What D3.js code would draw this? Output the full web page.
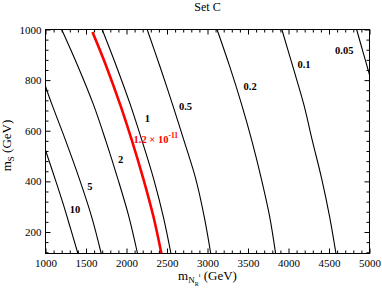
<!DOCTYPE html>
<html>
<head>
<meta charset="utf-8">
<script src="https://cdn.jsdelivr.net/npm/d3@7"></script>
<style>
  body { margin: 0; background: #fff; }
  svg { display: block; }
  text { font-family: "Liberation Serif", "Times New Roman", serif; }
</style>
</head>
<body>
<div id="chart"></div>
<script>
// m_S levels where the curves were read (GeV)
const mS_levels = [1000, 855, 705, 560, 410, 260, 115];

// contour curves, m_NR values (GeV) at the levels above
const curve_2 = [1200, 1400, 1590, 1745, 1893, 2030, 2136];
const curve_1 = [1700, 1875, 2045, 2192, 2335, 2455, 2549];
const curve_05 = [2255, 2412, 2567, 2711, 2855, 2960, 3040];
const curve_02 = [3118, 3273, 3420, 3548, 3665, 3768, 3841];
const curve_01 = [3918, 4052, 4188, 4295, 4410, 4508, 4586];

// red curve starts slightly below the top
const red_mS = [990, 855, 705, 560, 410, 260, 115];
const red_mN = [1580, 1750, 1920, 2068, 2208, 2333, 2431];

// curves entering from the side
const curve_5_mS = [775, 705, 560, 410, 260, 115];
const curve_5_mN = [1000, 1078, 1250, 1418, 1570, 1688];
const curve_10_mS = [523, 405, 307, 215, 115];
const curve_10_mN = [1000, 1123, 1222, 1308, 1400];
const curve_005_mS = [1000, 910, 821];
const curve_005_mN = [4841, 4921, 5000];

// labels
const labelText = ['10', '5', '2', '1', '0.5', '0.2', '0.1', '0.05'];
const labelMN = [1363, 1548, 1927, 2259, 2729, 3527, 4191, 4689];
const labelMS = [276, 365, 474, 634, 681, 761, 849, 902];
const redLabelMN = 2087, redLabelMS = 553;

const xTicks = [1000, 1500, 2000, 2500, 3000, 3500, 4000, 4500, 5000];
const yTicks = [200, 400, 600, 800, 1000];

const width = 382, height = 291;

const x_scale = d3.scaleLinear().domain([1000, 5000]).range([45.5, 369.5]);
const y_scale = d3.scaleLinear().domain([115, 1000]).range([253.5, 29.5]);

const xMinor = d3.range(1000, 5001, 100).filter(v => v % 500 !== 0);
const yMinor = d3.range(120, 1001, 40).filter(v => v % 200 !== 0);

const svg = d3.select('#chart').append('svg')
    .attr('width', width)
    .attr('height', height);

svg.append('defs').append('clipPath').attr('id', 'plot')
    .append('rect')
    .attr('x', x_scale(1000)).attr('y', y_scale(1000))
    .attr('width', x_scale(5000) - x_scale(1000))
    .attr('height', y_scale(115) - y_scale(1000));

// axes, ticks pointing inward
function drawAxis(axis, tx, ty, labels) {
    const g = svg.append('g').attr('transform', `translate(${tx},${ty})`).call(axis);
    g.select('.domain').remove();
    g.selectAll('line').attr('stroke', '#000');
    g.selectAll('text').attr('fill', '#000').style('font-size', '11px');
    if (!labels) g.selectAll('text').remove();
    return g;
}
const B = y_scale(115), T = y_scale(1000), L = x_scale(1000), R = x_scale(5000);

drawAxis(d3.axisBottom(x_scale).tickValues(xTicks).tickSize(-5).tickPadding(6).tickFormat(d3.format('d')), 0, B, true);
drawAxis(d3.axisBottom(x_scale).tickValues(xMinor).tickSize(-3).tickFormat(''), 0, B, false);
drawAxis(d3.axisTop(x_scale).tickValues(xTicks).tickSize(-5).tickFormat(''), 0, T, false);
drawAxis(d3.axisTop(x_scale).tickValues(xMinor).tickSize(-3).tickFormat(''), 0, T, false);
drawAxis(d3.axisLeft(y_scale).tickValues(yTicks).tickSize(-5).tickPadding(4).tickFormat(d3.format('d')), L, 0, true);
drawAxis(d3.axisLeft(y_scale).tickValues(yMinor).tickSize(-3).tickFormat(''), L, 0, false);
drawAxis(d3.axisRight(y_scale).tickValues(yTicks).tickSize(-5).tickFormat(''), R, 0, false);
drawAxis(d3.axisRight(y_scale).tickValues(yMinor).tickSize(-3).tickFormat(''), R, 0, false);

svg.append('rect')
    .attr('x', L).attr('y', T)
    .attr('width', R - L).attr('height', B - T)
    .attr('fill', 'none').attr('stroke', '#000').attr('stroke-width', 1);

// curves
const line = d3.line()
    .x(d => x_scale(d[0]))
    .y(d => y_scale(d[1]))
    .curve(d3.curveCatmullRom);

const plot = svg.append('g').attr('clip-path', 'url(#plot)');
const blackCurves = [
    d3.zip(curve_10_mN, curve_10_mS),
    d3.zip(curve_5_mN, curve_5_mS),
    d3.zip(curve_2, mS_levels),
    d3.zip(curve_1, mS_levels),
    d3.zip(curve_05, mS_levels),
    d3.zip(curve_02, mS_levels),
    d3.zip(curve_01, mS_levels),
    d3.zip(curve_005_mN, curve_005_mS)
];
plot.selectAll('path.black').data(blackCurves).enter()
    .append('path')
    .attr('class', 'black')
    .attr('fill', 'none')
    .attr('stroke', '#000')
    .attr('stroke-width', 1.1)
    .attr('d', line);

plot.append('path')
    .datum(d3.zip(red_mN, red_mS))
    .attr('fill', 'none')
    .attr('stroke', '#ff0000')
    .attr('stroke-width', 2.6)
    .attr('d', line);

// contour labels
svg.selectAll('text.lab').data(labelText).enter()
    .append('text')
    .attr('class', 'lab')
    .attr('x', (d, i) => x_scale(labelMN[i]))
    .attr('y', (d, i) => y_scale(labelMS[i]))
    .attr('text-anchor', 'middle')
    .style('font-size', '10.5px')
    .style('font-weight', 'bold')
    .text(d => d);

const redLab = svg.append('text')
    .attr('x', x_scale(redLabelMN))
    .attr('y', y_scale(redLabelMS))
    .attr('fill', '#ff0000')
    .style('font-size', '10.5px')
    .style('font-weight', 'bold');
redLab.append('tspan').text('1.2 × 10');
redLab.append('tspan').attr('dy', -5).style('font-size', '7.5px').text('-11');

// title
svg.append('text')
    .attr('x', (L + R) / 2)
    .attr('y', 10.5)
    .attr('text-anchor', 'middle')
    .style('font-size', '12px')
    .text('Set C');

// x label
const xl = svg.append('text')
    .attr('x', (L + R) / 2)
    .attr('y', 280)
    .attr('text-anchor', 'middle')
    .style('font-size', '13px');
xl.append('tspan').text('m');
xl.append('tspan').attr('dy', 3).style('font-size', '9px').text('N');
xl.append('tspan').attr('dy', 3).style('font-size', '6px').text('R');
xl.append('tspan').attr('dy', -9).style('font-size', '6px').text('ı');
xl.append('tspan').attr('dy', 3).text(' (GeV)');

// y label
const yl = svg.append('text')
    .attr('transform', `translate(11,${(T + B) / 2 + 4}) rotate(-90)`)
    .attr('text-anchor', 'middle')
    .style('font-size', '13px');
yl.append('tspan').text('m');
yl.append('tspan').attr('dy', 3).style('font-size', '9px').text('S');
yl.append('tspan').attr('dy', -3).text(' (GeV)');
</script>
</body>
</html>
